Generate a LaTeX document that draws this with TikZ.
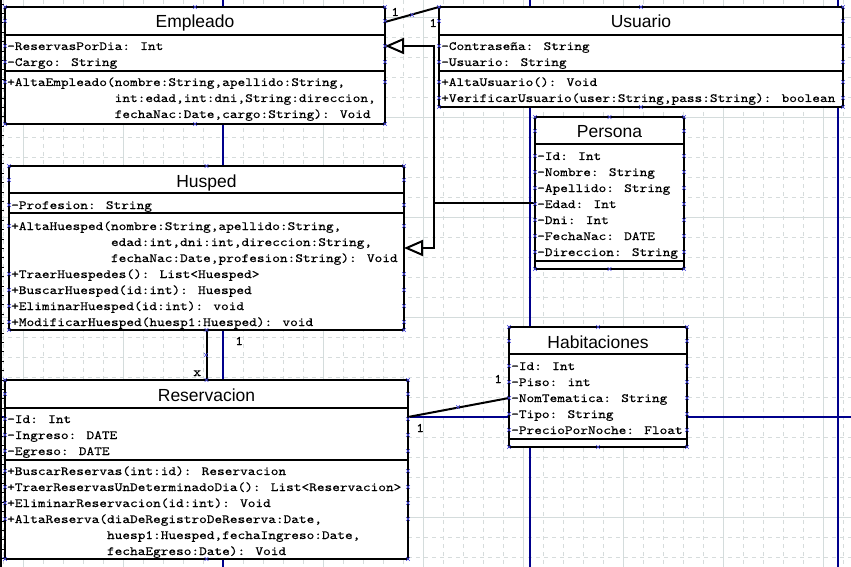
\documentclass[tikz,border=0pt]{standalone}
\usepackage{fontspec}
\setmainfont{Liberation Sans}
\newfontfamily\umltt{lmmono10-regular.otf}[FakeStretch=1.17,FakeBold=0.35]
\newfontfamily\umlsf{Liberation Sans}
\usetikzlibrary{arrows.meta}

\definecolor{gridsolid}{RGB}{212,220,220}
\definecolor{griddash}{RGB}{214,220,220}
\definecolor{pagebreak}{RGB}{0,0,140}
\definecolor{handlecol}{RGB}{70,70,225}

\tikzset{
  dashgrid/.style={draw=griddash,line width=0.9pt,dash pattern=on 4pt off 4pt},
  solidgrid/.style={draw=gridsolid,line width=0.9pt},
  pageline/.style={draw=pagebreak,line width=1.1pt},
  classbox/.style={draw=black,fill=white,line width=2pt,inner sep=0pt,outer sep=0pt,anchor=north west},
  sep/.style={draw=black,line width=2pt},
  classtitle/.style={font=\umlsf\fontsize{17.5}{20}\selectfont,anchor=base,inner sep=0pt},
  member/.style={font=\umltt\fontsize{12.5}{16}\selectfont,anchor=base west,inner sep=0pt},
  mult/.style={font=\umltt\fontsize{13}{16}\selectfont,anchor=base west,inner sep=0pt},
  assoc/.style={draw=black,line width=2pt},
  generalize/.style={draw=black,line width=2pt,-{Triangle[length=19pt,width=16pt,fill=white]}},
  handlemark/.style={draw=handlecol,line width=0.6pt}
}

% small blue selection handle
\newcommand\hx[2]{\draw[handlemark] ({#1-1.8},{#2-1.8}) -- ({#1+1.8},{#2+1.8}) ({#1-1.8},{#2+1.8}) -- ({#1+1.8},{#2-1.8});}
% handles of a class box: left x, right x, top y, bottom y, row centres
\newcommand\boxhandles[5]{%
  \foreach \yy in {#3,#4,#5}{\hx{#1}{\yy}\hx{#2}{\yy}}%
  \hx{(#1+#2)/2}{#3}\hx{(#1+#2)/2}{#4}}

\begin{document}
\begin{tikzpicture}[x=1pt,y=-1pt]
\useasboundingbox (0,0) rectangle (851,567);
\fill[white] (0,0) rectangle (851,567);

% drawing grid
\foreach \i in {0,...,42} \draw[dashgrid] (3+20*\i,0) -- (3+20*\i,567);
\foreach \j in {0,...,27} \draw[dashgrid] (0,17+20*\j) -- (851,17+20*\j);
\foreach \i in {0,...,8} \draw[solidgrid] (23+100*\i,0) -- (23+100*\i,567);
\foreach \j in {0,...,5} \draw[solidgrid] (0,17+100*\j) -- (851,17+100*\j);

% page breaks
\draw[pageline] (223,0) -- (223,567);
\draw[pageline] (530,0) -- (530,567);
\draw[pageline] (838,0) -- (838,567);
\draw[pageline] (0,417) -- (851,417);

% left ruler
\draw[line width=1.6pt] (1,0) -- (1,567);
\foreach \t in {0,...,60} \draw[line width=0.9pt] (0,4+9.4*\t) -- (4,4+9.4*\t);

% ---------- Empleado ----------
\node[classbox,minimum width=380pt,minimum height=117pt] (emp) at (5,7) {};
\draw[sep] (5,35) -- (385,35);
\draw[sep] (5,71) -- (385,71);
\node[classtitle] (emp-t) at (195,28) {Empleado};
\node[member] (emp-a1) at (7,50) {-ReservasPorDia: Int};
\node[member] (emp-a2) at (7,66) {-Cargo: String};
\node[member] (emp-m1) at (7,86) {+AltaEmpleado(nombre:String,apellido:String,};
\node[member] (emp-m1b) at (7,102) {\phantom{+AltaEmpleado(}int:edad,int:dni,String:direccion,};
\node[member] (emp-m1c) at (7,118) {\phantom{+AltaEmpleado(}fechaNac:Date,cargo:String): Void};

% ---------- Usuario ----------
\node[classbox,minimum width=404pt,minimum height=100pt] (usu) at (439,7) {};
\draw[sep] (439,35) -- (843,35);
\draw[sep] (439,71) -- (843,71);
\node[classtitle] (usu-t) at (641,28) {Usuario};
\node[member] (usu-a1) at (441,50) {-Contraseña: String};
\node[member] (usu-a2) at (441,66) {-Usuario: String};
\node[member] (usu-m1) at (441,86) {+AltaUsuario(): Void};
\node[member] (usu-m2) at (441,102) {+VerificarUsuario(user:String,pass:String): boolean};

% ---------- Husped ----------
\node[classbox,minimum width=395pt,minimum height=164pt] (hus) at (9,166) {};
\draw[sep] (9,193) -- (404,193);
\draw[sep] (9,213) -- (404,213);
\node[classtitle] (hus-t) at (206.5,187) {Husped};
\node[member] (hus-a1) at (11,209) {-Profesion: String};
\node[member] (hus-m1) at (11,230) {+AltaHuesped(nombre:String,apellido:String,};
\node[member] (hus-m1b) at (11,246) {\phantom{+AltaHuesped(}edad:int,dni:int,direccion:String,};
\node[member] (hus-m1c) at (11,262) {\phantom{+AltaHuesped(}fechaNac:Date,profesion:String): Void};
\node[member] (hus-m2) at (11,278) {+TraerHuespedes(): List<Huesped>};
\node[member] (hus-m3) at (11,294) {+BuscarHuesped(id:int): Huesped};
\node[member] (hus-m4) at (11,310) {+EliminarHuesped(id:int): void};
\node[member] (hus-m5) at (11,326) {+ModificarHuesped(huesp1:Huesped): void};

% ---------- Persona ----------
\node[classbox,minimum width=149pt,minimum height=152pt] (per) at (535,117) {};
\draw[sep] (535,144) -- (684,144);
\draw[sep] (535,261) -- (684,261);
\node[classtitle] (per-t) at (609.5,138) {Persona};
\node[member] (per-a1) at (537,160) {-Id: Int};
\node[member] (per-a2) at (537,176) {-Nombre: String};
\node[member] (per-a3) at (537,192) {-Apellido: String};
\node[member] (per-a4) at (537,208) {-Edad: Int};
\node[member] (per-a5) at (537,224) {-Dni: Int};
\node[member] (per-a6) at (537,240) {-FechaNac: DATE};
\node[member] (per-a7) at (537,256) {-Direccion: String};

% ---------- Reservacion ----------
\node[classbox,minimum width=403pt,minimum height=179pt] (res) at (5,380) {};
\draw[sep] (5,408) -- (408,408);
\draw[sep] (5,460) -- (408,460);
\node[classtitle] (res-t) at (206.5,401) {Reservacion};
\node[member] (res-a1) at (7,423) {-Id: Int};
\node[member] (res-a2) at (7,439) {-Ingreso: DATE};
\node[member] (res-a3) at (7,455) {-Egreso: DATE};
\node[member] (res-m1) at (7,475) {+BuscarReservas(int:id): Reservacion};
\node[member] (res-m2) at (7,491) {+TraerReservasUnDeterminadoDia(): List<Reservacion>};
\node[member] (res-m3) at (7,507) {+EliminarReservacion(id:int): Void};
\node[member] (res-m4) at (7,523) {+AltaReserva(diaDeRegistroDeReserva:Date,};
\node[member] (res-m4b) at (7,539) {\phantom{+AltaReserva(}huesp1:Huesped,fechaIngreso:Date,};
\node[member] (res-m4c) at (7,555) {\phantom{+AltaReserva(}fechaEgreso:Date): Void};

% ---------- Habitaciones ----------
\node[classbox,minimum width=178pt,minimum height=120pt] (hab) at (509,327) {};
\draw[sep] (509,354) -- (687,354);
\draw[sep] (509,439) -- (687,439);
\node[classtitle] (hab-t) at (598,348) {Habitaciones};
\node[member] (hab-a1) at (511,370) {-Id: Int};
\node[member] (hab-a2) at (511,386) {-Piso: int};
\node[member] (hab-a3) at (511,402) {-NomTematica: String};
\node[member] (hab-a4) at (511,418) {-Tipo: String};
\node[member] (hab-a5) at (511,434) {-PrecioPorNoche: Float};

% ---------- connection points ----------
\coordinate (emp-assoc) at (385,22);
\coordinate (emp-gen) at (385,46);
\coordinate (hus-gen) at (404,248);
\coordinate (per-gen) at (535,203);
\coordinate (gen-join) at (434,203);
\coordinate (res-hab) at (408,417);
\coordinate (hab-res) at (509,398);

% ---------- connectors ----------
\draw[assoc] (emp-assoc) -- (usu.north west);
\draw[assoc] (hus.south) -- (res.north);
\draw[assoc] (res-hab) -- (hab-res);
\draw[generalize] (per-gen) -- (gen-join) |- (emp-gen);
\draw[generalize] (gen-join) |- (hus-gen);

% multiplicities
\node[mult] (m-emp) at (391,16) {1};
\node[mult] (m-usu) at (429,27) {1};
\node[mult] (m-hus) at (235,345) {1};
\node[mult] (m-res) at (193,376) {x};
\node[mult] (m-res2) at (416,432) {1};
\node[mult] (m-hab) at (494,383) {1};

% ---------- selection handles ----------
\boxhandles{5}{385}{7}{124}{21,46,62,82}
\boxhandles{439}{843}{7}{107}{21,46,62,82,98}
\boxhandles{9}{404}{166}{330}{180,205,226,274,290,306,322}
\boxhandles{535}{684}{117}{269}{131,156,172,188,204,220,236,252}
\boxhandles{5}{408}{380}{559}{394,419,435,451,471,487,503,519}
\boxhandles{509}{687}{327}{447}{341,366,382,398,414,430}
\hx{412}{15}
\hx{206}{355}
\hx{458}{407}
\end{tikzpicture}
\end{document}
